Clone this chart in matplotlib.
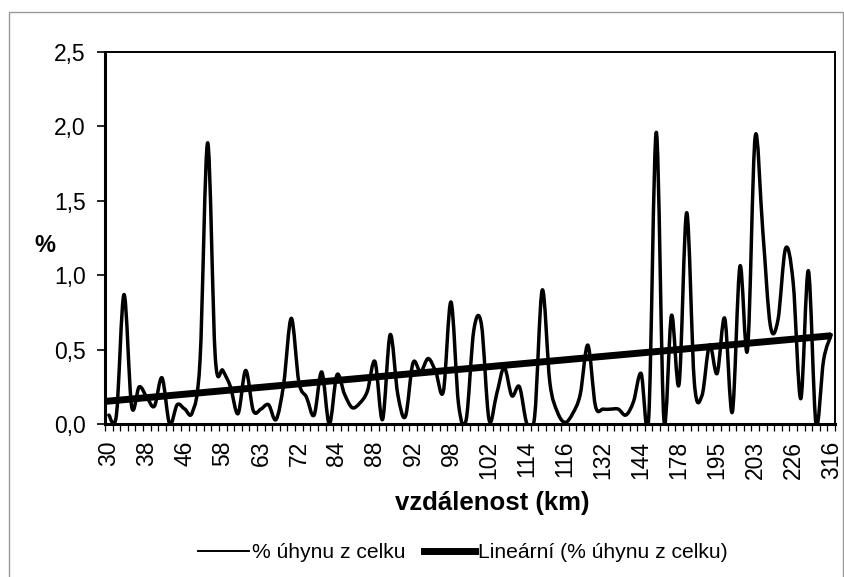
import numpy as np
import matplotlib
matplotlib.use("Agg")
import matplotlib.pyplot as plt
from matplotlib.path import Path
import matplotlib.patches as patches
from matplotlib.lines import Line2D

plt.rcParams['font.family'] = ['Liberation Sans', 'DejaVu Sans']

# % uhynu z celku, one value per category (96 categories)
values = [0.06, 0.06, 0.87, 0.12, 0.25, 0.18, 0.12, 0.31, 0.00, 0.13,
          0.10, 0.08, 0.43, 1.89, 0.45, 0.36, 0.25, 0.07, 0.36, 0.09,
          0.10, 0.13, 0.03, 0.27, 0.71, 0.28, 0.18, 0.06, 0.35, 0.00,
          0.33, 0.20, 0.11, 0.14, 0.22, 0.42, 0.03, 0.60, 0.20, 0.05,
          0.41, 0.35, 0.44, 0.35, 0.22, 0.82, 0.13, 0.03, 0.63, 0.67,
          0.03, 0.20, 0.38, 0.19, 0.25, 0.00, 0.05, 0.90, 0.28, 0.08,
          0.01, 0.07, 0.20, 0.53, 0.12, 0.10, 0.10, 0.10, 0.06, 0.15,
          0.34, 0.04, 1.96, 0.03, 0.73, 0.27, 1.42, 0.28, 0.19, 0.53,
          0.34, 0.71, 0.08, 1.06, 0.50, 1.93, 1.30, 0.66, 0.70, 1.18,
          0.95, 0.17, 1.03, 0.00, 0.43, 0.60]

# labelled categories (every 5th) - vzdalenost v km
tick_labels = ['30', '38', '46', '58', '63', '72', '84', '88', '92', '98',
               '102', '114', '116', '132', '144', '178', '195', '203', '226', '316']
label_step = 5

y_ticks = [0, 0.5, 1.0, 1.5, 2.0, 2.5]

x = np.arange(len(values))
y = np.array(values)

fig = plt.figure(figsize=(8.45, 5.77), dpi=100)
ax = fig.add_axes([105/845, (577-424)/577, 730/845, 372/577])

# smoothed line like Excel: cubic bezier segments through the points
verts = [(x[0], y[0])]
codes = [Path.MOVETO]
n = len(x)
for i in range(n - 1):
    p0 = np.array([x[max(i-1, 0)], y[max(i-1, 0)]])
    p1 = np.array([x[i], y[i]])
    p2 = np.array([x[i+1], y[i+1]])
    p3 = np.array([x[min(i+2, n-1)], y[min(i+2, n-1)]])
    c1 = p1 + (p2 - p0) / 6.0
    c2 = p2 - (p3 - p1) / 6.0
    verts += [tuple(c1), tuple(c2), tuple(p2)]
    codes += [Path.CURVE4, Path.CURVE4, Path.CURVE4]
curve = patches.PathPatch(Path(verts, codes), facecolor='none', edgecolor='black',
                          lw=2.5, capstyle='round', joinstyle='round', zorder=3)
ax.add_patch(curve)

# linear trend
k, q = np.polyfit(x, y, 1)
ax.plot([x[0] - 0.5, x[-1]], [k*(x[0] - 0.5) + q, k*x[-1] + q], color='black', lw=5,
        solid_capstyle='butt', zorder=4)

ax.set_xlim(-0.5, n - 0.5)
ax.set_ylim(0, 2.5)
ax.set_yticks(y_ticks)
ax.set_yticklabels([f"{v:.1f}".replace('.', ',') for v in y_ticks], fontsize=16.5)
ax.tick_params(axis='y', direction='out', length=6, width=1.2, pad=8)

ax.set_xticks(x[::label_step])
ax.set_xticklabels(tick_labels, rotation=90, fontsize=16.5)
ax.set_xticks(np.arange(-0.5, n, 1), minor=True)
ax.tick_params(axis='x', which='major', length=0, pad=12)
ax.tick_params(axis='x', which='minor', direction='out', length=5, width=0.9)

for s in ax.spines.values():
    s.set_linewidth(1.4)
ax.spines['left'].set_linewidth(2.2)
ax.spines['bottom'].set_linewidth(2.2)

ax.set_ylabel('%', fontsize=17, fontweight='bold', rotation=0, va='center', ha='center')
ax.yaxis.set_label_coords(-0.082, 0.48)
ax.set_xlabel('vzdálenost (km)', fontsize=18.5, fontweight='bold')
ax.xaxis.set_label_coords(0.53, -0.18)

handles = [Line2D([], [], color='black', lw=1.4),
           Line2D([], [], color='black', lw=5)]
fig.legend(handles, ['% úhynu z celku', 'Lineární (% úhynu z celku)'],
           loc='center', bbox_to_anchor=(0.548, 1 - 553/577), ncol=2, frameon=False,
           fontsize=15.2, handlelength=2.4, handletextpad=0.15, columnspacing=0.9)

# outer chart border
fig.add_artist(patches.Rectangle((9/845, -0.05), (843-9)/845, 1.05 - 12/577,
                                 transform=fig.transFigure, fill=False,
                                 edgecolor='#999999', lw=1.0))

fig.savefig('out.png', dpi=100)
